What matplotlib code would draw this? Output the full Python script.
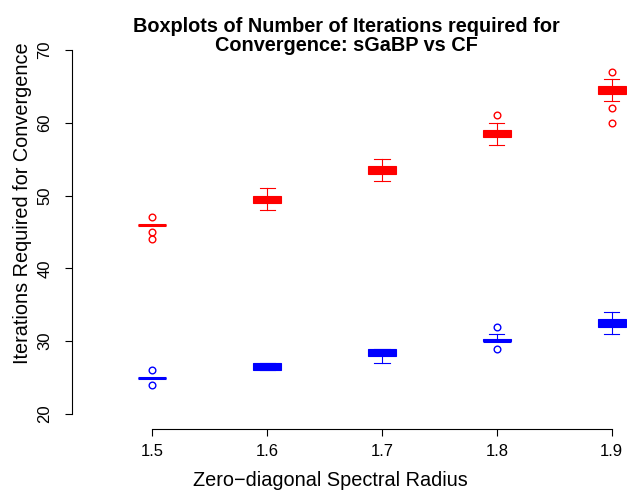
import matplotlib
matplotlib.use("Agg")
import matplotlib.pyplot as plt

plt.rcParams['font.family'] = ['Liberation Sans', 'DejaVu Sans']

# spectral radius values (box positions)
radius = [1.5, 1.6, 1.7, 1.8, 1.9]

# five-number summaries, read per radius: lower whisker, Q1, median, Q3, upper whisker
red_lo = [46, 48, 52, 57, 63]
red_q1 = [46, 49, 53, 58, 64]
red_med = [46, 49.5, 53.5, 58.5, 64.5]
red_q3 = [46, 50, 54, 59, 65]
red_hi = [46, 51, 55, 60, 66]
red_out = [[47, 45, 44], [], [], [61], [67, 62, 60]]

blue_lo = [25, 26, 27, 30, 31]
blue_q1 = [25, 26, 28, 30, 32]
blue_med = [25, 26.5, 28.5, 30, 32.5]
blue_q3 = [25, 27, 29, 30.25, 33]
blue_hi = [25, 27, 29, 31, 34]
blue_out = [[26, 24], [], [], [32, 29], []]

W, H = 627, 492


def make_stats(lo, q1, med, q3, hi, out):
    return [dict(whislo=a, q1=b, med=c, q3=d, whishi=e, fliers=f)
            for a, b, c, d, e, f in zip(lo, q1, med, q3, hi, out)]


def draw(ax, stats, color):
    ax.bxp(stats, positions=radius, widths=0.0244, capwidths=0.0131,
           patch_artist=True, manage_ticks=False,
           boxprops=dict(facecolor=color, edgecolor=color, linewidth=0.8),
           medianprops=dict(color=color, linewidth=2.2),
           whiskerprops=dict(color=color, linewidth=0.8),
           capprops=dict(color=color, linewidth=0.8),
           flierprops=dict(marker='o', markerfacecolor='none',
                           markeredgecolor=color, markersize=4.8,
                           markeredgewidth=1.0))


fig = plt.figure(figsize=(W / 100, H / 100), dpi=100)
ax = fig.add_axes([72 / W, (H - 428.6) / H, 620 / W, 393.2 / H])

draw(ax, make_stats(red_lo, red_q1, red_med, red_q3, red_hi, red_out), '#ff0000')
draw(ax, make_stats(blue_lo, blue_q1, blue_med, blue_q3, blue_hi, blue_out), '#0000ff')

ax.set_xlim(1.43, 1.97)
ax.set_ylim(18, 72)
ax.set_xticks(radius)
ax.set_xticklabels([str(r) for r in radius])
ax.set_yticks([20, 30, 40, 50, 60, 70])
ax.spines['top'].set_visible(False)
ax.spines['right'].set_visible(False)
ax.spines['left'].set_bounds(20, 70)
ax.spines['bottom'].set_bounds(1.5, 1.9)
for s in ('left', 'bottom'):
    ax.spines[s].set_linewidth(0.8)
ax.tick_params(direction='out', length=5, width=0.8, labelsize=12)
ax.tick_params(axis='x', pad=6)
ax.tick_params(axis='y', pad=9)
for lab in ax.get_yticklabels():
    lab.set_rotation(90)
    lab.set_va('center')

fig.text(346 / W, 1 - 32 / H, "Boxplots of Number of Iterations required for",
         ha='center', va='baseline', fontsize=14.3, fontweight='bold')
fig.text(346 / W, 1 - 51 / H, "Convergence: sGaBP vs CF",
         ha='center', va='baseline', fontsize=14.3, fontweight='bold')
fig.text(330 / W, 1 - 480 / H, "Zero\u2212diagonal Spectral Radius",
         ha='center', va='center', fontsize=14.3)
fig.text(22.5 / W, 1 - 203 / H, "Iterations Required for Convergence",
         ha='center', va='center', rotation=90, fontsize=14.3)

fig.savefig("out.png", dpi=100)
